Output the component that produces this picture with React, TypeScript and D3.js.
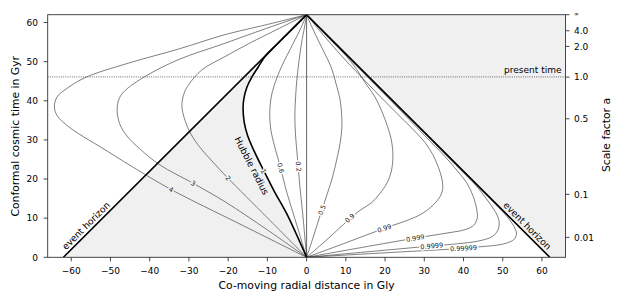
import React from 'react';
import * as d3 from 'd3';

type P = [number, number];

// ---------- data (distance in Gly, conformal time in Gyr) ----------
const xDomain: P = [-66, 66];
const yDomain: P = [0, 62];
const xTicks = [-60, -50, -40, -30, -20, -10, 0, 10, 20, 30, 40, 50, 60];
const yTicks = [0, 10, 20, 30, 40, 50, 60];
const scaleFactorLabels = ['∞', '4.0', '2.0', '1.0', '0.5', '0.1', '0.01'];
const scaleFactorTimes = [62, 57.9, 53.9, 46.05, 35.4, 16.1, 5.1];
const presentTime = 46.1;
const apexTime = 62;
const horizonDistance = 62;

const curve4: P[] = [[0,0],[-17,8.5],[-34.5,17.3],[-44.2,23.0],[-52.7,28.3],[-57.5,31.2],[-61.2,33.8],[-63.6,36.2],[-64.3,38.5],[-63.6,41.0],[-61.6,42.8],[-56.5,45.9],[-45.5,49.6],[-32.7,53.2],[-20.8,56.9],[-10,59.5],[0,62]];
const curve3: P[] = [[0,0],[-10,7.0],[-20.8,14.2],[-28.9,18.9],[-37.4,23.6],[-42.5,27.7],[-45.8,31.0],[-47.6,34.0],[-48.3,37.5],[-47.8,40.5],[-46.3,42.6],[-41.2,46.2],[-32.7,50.5],[-20.8,54.7],[-10,58.6],[0,62]];
const curve2: P[] = [[0,0],[-10,10.1],[-20.2,20.4],[-24.4,24.9],[-27.5,28.5],[-29.5,31.5],[-31.0,35.0],[-31.8,38.8],[-31.2,42.0],[-30.0,44.2],[-26.7,47.9],[-20.8,51.3],[-14,55.0],[-7,58.5],[0,62]];
const hubbleRadius: P[] = [[0,0],[-5.1,11.2],[-8.2,16.8],[-11.0,22.3],[-13.3,27.0],[-15.0,31.0],[-15.9,34.5],[-16.2,38.0],[-16.0,40.5],[-15.2,43.5],[-14.0,46.0],[-12.4,48.5],[-10.6,51.3],[-8,54],[-5,57],[0,62]];
const curve06: P[] = [[0,0],[-3.4,11.2],[-5.3,17.5],[-6.8,23.5],[-8.2,28.5],[-9.1,32.5],[-9.4,36.5],[-9.1,40.5],[-8.3,43.8],[-6.4,48.7],[-3.4,54.7],[-1.5,58.5],[0,62]];
const curve02: P[] = [[0,0],[-1.0,11.2],[-1.7,18],[-2.3,25],[-2.8,31],[-3.0,36],[-2.8,41],[-2.4,46.2],[-1.3,54.7],[-0.5,59],[0,62]];
const curve05: P[] = [[0,0],[1.8,5.5],[3.7,11.5],[5.2,16.0],[6.6,20.5],[7.8,25.5],[8.6,29.5],[9.0,33.4],[8.9,37.0],[8.5,40.5],[7.6,44.0],[6.3,48.5],[4.5,52.3],[2.8,55.8],[1.2,59.2],[0,62]];
const curve09: P[] = [[0,0],[5.5,4.8],[10.5,9.4],[13.6,12.0],[16.5,13.9],[18.6,16.2],[20.5,19.0],[21.6,22.0],[22.0,26.0],[21.6,30.0],[20.6,33.5],[19.1,37.5],[17.3,41.2],[15.0,44.5],[12.8,48],[10.2,51.3],[6.8,54.8],[3.4,58.3],[0,62]];
const curve099: P[] = [[0,0],[10,3.7],[19.8,7.4],[25.8,9.5],[29.5,11.2],[32.3,13.4],[34.0,15.5],[34.7,17.5],[34.5,20.0],[33.6,23.0],[32.2,26.2],[30.2,29.3],[27.5,32.3],[21.5,38.3],[15,45],[8,52.5],[3,58.3],[0,62]];
const curve0999: P[] = [[0,0],[14,2.5],[27.7,4.9],[35.8,6.2],[40.5,7.1],[42.6,8.2],[43.5,10.0],[43.4,12.1],[42.5,15.5],[40.9,18.9],[38.5,22.0],[35.5,25.5],[30,31.2],[22,39.5],[14,47.6],[6,55.8],[0,62]];
const curve09999: P[] = [[0,0],[16,1.45],[31.9,2.9],[40.0,3.6],[44.5,4.3],[47.3,5.3],[48.7,6.8],[49.1,8.7],[48.7,10.5],[47.7,12.3],[45.8,15.0],[43.3,18.2],[38,23.6],[30,31.7],[20,41.8],[10,51.9],[0,62]];
const curve099999: P[] = [[0,0],[20,1.15],[40,2.3],[44.3,2.7],[48.5,3.1],[51.2,3.7],[52.9,4.6],[53.5,5.9],[53.2,7.2],[52.3,8.8],[51.0,10.5],[48.0,13.7],[42,19.7],[30,31.8],[15,46.85],[0,62]];

const thinCurves: P[][] = [curve4, curve3, curve2, curve06, curve02, curve05, curve09, curve099, curve0999, curve09999, curve099999];

const curveLabelTexts = ['4', '3', '2', '1', '0.6', '0.2', '0.5', '0.9', '0.99', '0.999', '0.9999', '0.99999'];
const curveLabelAnchors: P[] = [[-34.5,17.3],[-28.9,18.9],[-20.0,20.2],[-11.0,22.0],[-6.6,22.8],[-2.1,23.2],[3.9,12.1],[11.0,10.0],[19.8,7.4],[27.7,4.9],[31.9,2.9],[40,2.3]];
const curveLabelAngles = [29, 31, 47, 63, 77, 85, -71, -42, -19, -10, -5, -3];
const curveLabelShaded = [true, true, true, true, false, false, false, false, false, false, false, false];

// ---------- layout ----------
const W = 623, H = 303;
const M = { left: 47.7, right: 565.5, top: 14.7, bottom: 257.3 };
const FONT = 'DejaVu Sans, sans-serif';
const SHADE = '#f0f0f0';

export default function App() {
  const x = d3.scaleLinear().domain(xDomain).range([M.left, M.right]);
  const y = d3.scaleLinear().domain(yDomain).range([M.bottom, M.top]);
  const smooth = d3.line<P>().x(d => x(d[0])).y(d => y(d[1])).curve(d3.curveCatmullRom.alpha(0.5));
  const straight = d3.line<P>().x(d => x(d[0])).y(d => y(d[1]));

  const hubbleReversed = [...hubbleRadius].reverse();
  const leftShade = smooth(hubbleReversed) + `L${x(-horizonDistance)},${y(0)}Z`;
  const rightShade = straight([[0, apexTime], [xDomain[1], apexTime], [xDomain[1], 0], [horizonDistance, 0]]) + 'Z';

  const ehT = 6.9;
  const ehLeft: P = [-horizonDistance + ehT, ehT];
  const ehRight: P = [horizonDistance - ehT, ehT];

  return (
    <svg width={W} height={H} style={{ position: 'absolute', left: 0, top: 0, background: '#fff' }} fontFamily={FONT}>
      <rect x={0} y={0} width={W} height={H} fill="#fff" />
      <defs>
        <clipPath id="plot">
          <rect x={M.left} y={M.top} width={M.right - M.left} height={M.bottom - M.top} />
        </clipPath>
      </defs>
      <g clipPath="url(#plot)">
        <path d={leftShade} fill={SHADE} />
        <path d={rightShade} fill={SHADE} />
        <path d={straight([[0, 0], [0, apexTime]]) || ''} stroke="#666" strokeWidth={1} fill="none" />
        {thinCurves.map((c, i) => (
          <path key={i} d={smooth(c) || ''} stroke="#3a3a3a" strokeWidth={0.65} fill="none" />
        ))}
        <path d={smooth(hubbleRadius) || ''} stroke="#000" strokeWidth={1.6} fill="none" />
        <path d={straight([[-horizonDistance, 0], [0, apexTime], [horizonDistance, 0]]) || ''} stroke="#000" strokeWidth={1.6} fill="none" strokeLinejoin="miter" />
        <line x1={M.left} x2={M.right} y1={y(presentTime)} y2={y(presentTime)} stroke="#444" strokeWidth={0.8} strokeDasharray="1,1.2" />
      </g>

      {curveLabelTexts.map((t, i) => {
        const [lx, ly] = curveLabelAnchors[i];
        return (
          <text key={t} transform={`translate(${x(lx)},${y(ly)}) rotate(${curveLabelAngles[i]})`} textAnchor="middle" dy="0.35em"
            fontSize={6.5} fill="#111" stroke={curveLabelShaded[i] ? SHADE : '#fff'} strokeWidth={3} paintOrder="stroke" strokeLinejoin="round">{t}</text>
        );
      })}

      <text transform={`translate(251.7,165.7) rotate(62.8)`} textAnchor="middle" dy="0.35em" fontSize={9.2} fill="#000">Hubble radius</text>
      <text transform={`translate(${x(ehLeft[0])},${y(ehLeft[1])}) rotate(-45)`} textAnchor="middle" dy="-3.2" fontSize={9.2} fill="#000">event horizon</text>
      <text transform={`translate(${x(ehRight[0])},${y(ehRight[1])}) rotate(45)`} textAnchor="middle" dy="-3.2" fontSize={9.2} fill="#000">event horizon</text>
      <text x={561.5} y={y(presentTime) - 3.6} textAnchor="end" fontSize={9} fill="#000">present time</text>

      {/* frame */}
      <rect x={M.left} y={M.top} width={M.right - M.left} height={M.bottom - M.top} fill="none" stroke="#333" strokeWidth={0.9} />

      {/* bottom axis */}
      {xTicks.map(v => (
        <g key={'x' + v}>
          <line x1={x(v)} x2={x(v)} y1={M.bottom} y2={M.bottom + 4} stroke="#333" strokeWidth={0.9} />
          <text x={x(v)} y={M.bottom + 16.2} textAnchor="middle" fontSize={9} fill="#000">{v < 0 ? '\u2212' + Math.abs(v) : v}</text>
        </g>
      ))}
      {/* left axis */}
      {yTicks.map(v => (
        <g key={'y' + v}>
          <line x1={M.left - 4} x2={M.left} y1={y(v)} y2={y(v)} stroke="#333" strokeWidth={0.9} />
          <text x={38} y={y(v) + 3.3} textAnchor="end" fontSize={9} fill="#000">{v}</text>
        </g>
      ))}
      {/* right axis */}
      {scaleFactorLabels.map((lab, i) => (
        <g key={'a' + lab}>
          <line x1={M.right} x2={M.right + 4} y1={y(scaleFactorTimes[i])} y2={y(scaleFactorTimes[i])} stroke="#333" strokeWidth={0.9} />
          <text x={574} y={y(scaleFactorTimes[i]) + (lab === '∞' ? 1.5 : 3.3)} textAnchor="start" fontSize={lab === '∞' ? 6 : 9} fill="#000">{lab}</text>
        </g>
      ))}

      <text x={306.6} y={288.5} textAnchor="middle" fontSize={10.8} fill="#000">Co-moving radial distance in Gly</text>
      <text transform={`translate(19.3,136.3) rotate(-90)`} textAnchor="middle" fontSize={10.8} fill="#000">Conformal cosmic time in Gyr</text>
      <text transform={`translate(609.5,135) rotate(-90)`} textAnchor="middle" fontSize={10.8} fill="#000">Scale factor a</text>
    </svg>
  );
}
